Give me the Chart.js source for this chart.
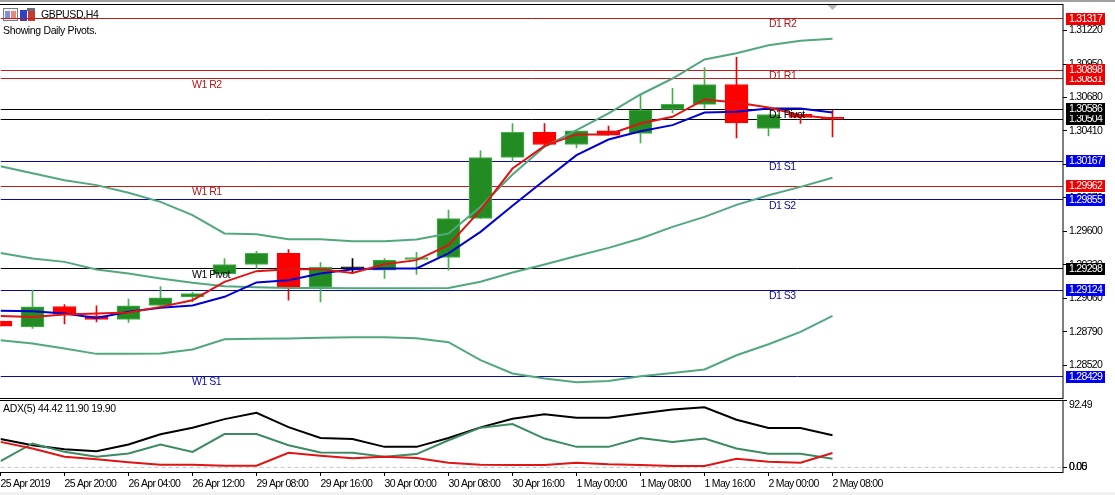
<!DOCTYPE html>
<html>
<head>
<meta charset="utf-8">
<title>GBPUSD,H4</title>
<script src="https://cdn.jsdelivr.net/npm/chart.js@4"></script>
<style>
    html, body { margin: 0; padding: 0; background: #fff; overflow: hidden; }
    #wrap { position: relative; width: 1115px; height: 495px; }
    canvas { position: absolute; left: 0; }
    #mainChart { top: 0; }
    #adxChart { top: 399px; }
    .strip { position: absolute; left: 0; width: 1115px; }
    #topStrip { top: 0; height: 2px; background: #a0a0a0; }
    #bottomStrip { top: 492px; height: 3px; background: #f0f0f0; }
</style>
</head>
<body>
<div id="wrap">
    <canvas id="mainChart" width="1115" height="399"></canvas>
    <canvas id="adxChart" width="1115" height="96"></canvas>
    <div class="strip" id="topStrip"></div>
    <div class="strip" id="bottomStrip"></div>
</div>
<script>
const candleOpen = [1.28876, 1.28830, 1.28994, 1.28918, 1.28889, 1.29002, 1.29072, 1.29257, 1.29333, 1.29422, 1.29152, 1.29306, 1.29287, 1.29373, 1.29389, 1.29704, 1.30196, 1.30398, 1.30301, 1.30411, 1.30390, 1.30583, 1.30624, 1.30785, 1.30430, 1.30545, 1.30519];
const candleHigh = [1.28876, 1.29126, 1.29010, 1.28999, 1.29053, 1.29155, 1.29109, 1.29381, 1.29440, 1.29454, 1.29349, 1.29381, 1.29381, 1.29430, 1.29771, 1.30249, 1.30470, 1.30470, 1.30411, 1.30449, 1.30704, 1.30753, 1.30922, 1.31003, 1.30543, 1.30545, 1.30578];
const candleLow = [1.28835, 1.28817, 1.28854, 1.28870, 1.28865, 1.28986, 1.29031, 1.29247, 1.29301, 1.29045, 1.29031, 1.29260, 1.29220, 1.29252, 1.29287, 1.29704, 1.30161, 1.30295, 1.30274, 1.30376, 1.30314, 1.30556, 1.30591, 1.30354, 1.30370, 1.30470, 1.30362];
const candleClose = [1.28835, 1.28991, 1.28932, 1.28889, 1.28999, 1.29063, 1.29099, 1.29333, 1.29422, 1.29152, 1.29309, 1.29306, 1.29368, 1.29389, 1.29704, 1.30196, 1.30398, 1.30301, 1.30411, 1.30376, 1.30578, 1.30624, 1.30785, 1.30475, 1.30543, 1.30519, 1.30505];

const bandUpper = [1.30126, 1.30069, 1.30013, 1.29973, 1.29911, 1.29838, 1.29731, 1.29583, 1.29577, 1.29537, 1.29537, 1.29521, 1.29521, 1.29535, 1.29583, 1.29798, 1.30059, 1.30282, 1.30416, 1.30551, 1.30704, 1.30833, 1.30987, 1.31037, 1.31102, 1.31137, 1.31153];
const bandMiddle = [1.29426, 1.29381, 1.29354, 1.29293, 1.29260, 1.29220, 1.29185, 1.29158, 1.29150, 1.29144, 1.29144, 1.29142, 1.29142, 1.29142, 1.29144, 1.29193, 1.29268, 1.29333, 1.29402, 1.29467, 1.29543, 1.29636, 1.29717, 1.29814, 1.29892, 1.29959, 1.30032];
const bandLower = [1.28722, 1.28696, 1.28655, 1.28612, 1.28612, 1.28615, 1.28647, 1.28730, 1.28733, 1.28736, 1.28741, 1.28746, 1.28746, 1.28738, 1.28706, 1.28561, 1.28454, 1.28413, 1.28383, 1.28394, 1.28432, 1.28458, 1.28486, 1.28601, 1.28690, 1.28789, 1.28918];
const maFast = [1.28918, 1.28910, 1.28930, 1.28938, 1.28946, 1.28991, 1.29045, 1.29193, 1.29279, 1.29295, 1.29295, 1.29265, 1.29335, 1.29368, 1.29489, 1.29771, 1.30107, 1.30290, 1.30382, 1.30382, 1.30470, 1.30524, 1.30664, 1.30640, 1.30599, 1.30537, 1.30511];
const maSlow = [1.28959, 1.28956, 1.28938, 1.28902, 1.28951, 1.28983, 1.29002, 1.29072, 1.29188, 1.29206, 1.29260, 1.29295, 1.29301, 1.29301, 1.29422, 1.29596, 1.29806, 1.30013, 1.30215, 1.30341, 1.30408, 1.30457, 1.30559, 1.30564, 1.30591, 1.30591, 1.30559];

const adxMain = [39.4, 30.7, 25.2, 22.5, 31.7, 45.8, 55.0, 66.8, 75.6, 55.8, 40.7, 39.4, 28.4, 28.4, 40.7, 55.4, 67.4, 73.7, 68.7, 68.7, 74.6, 80.1, 83.3, 66.0, 54.5, 54.5, 44.42];
const adxPlus = [8.8, 33.1, 21.5, 14.7, 19.3, 31.7, 21.5, 46.2, 46.2, 30.7, 20.7, 20.2, 14.7, 18.4, 37.6, 55.0, 60.0, 39.9, 28.4, 28.4, 40.7, 35.3, 39.9, 26.2, 18.8, 18.8, 11.90];
const adxMinus = [35.3, 26.2, 14.7, 11.1, 7.0, 3.7, 3.7, 2.3, 2.3, 20.2, 16.1, 12.5, 14.7, 12.9, 6.4, 3.7, 3.3, 3.3, 6.4, 4.3, 3.3, 1.9, 1.9, 11.9, 7.8, 6.4, 19.90];

const levelValues = [1.31317, 1.30898, 1.30831, 1.30586, 1.30504, 1.30167, 1.29962, 1.29855, 1.29298, 1.29124, 1.28429];
const levelKinds = ['r', 'r', 'r', 'k', 'k', 'b', 'r', 'b', 'k', 'b', 'b'];
const levelNames = ['D1 R2', 'D1 R1', 'W1 R2', 'D1 Pivot', '', 'D1 S1', 'W1 R1', 'D1 S2', 'W1 Pivot', 'D1 S3', 'W1 S1'];

const priceTicks = [1.31220, 1.30950, 1.30680, 1.30410, 1.30140, 1.29870, 1.29600, 1.29330, 1.29060, 1.28790, 1.28520];
const adxTicks = [92.49, 0.05, 0];
const timeTicks = [0, 2, 4, 6, 8, 10, 12, 14, 16, 18, 20, 22, 24, 26];
const timeLabels = ['25 Apr 2019', '25 Apr 20:00', '26 Apr 04:00', '26 Apr 12:00', '29 Apr 08:00', '29 Apr 16:00', '30 Apr 00:00', '30 Apr 08:00', '30 Apr 16:00', '1 May 00:00', '1 May 08:00', '1 May 16:00', '2 May 00:00', '2 May 08:00'];

const X_MAX = 33.203;
const FONT_FAMILY = '"Liberation Sans", sans-serif';
const AXIS_FONT = { family: FONT_FAMILY, size: 10.5 };
const TEXT_FONT = '10.5px ' + FONT_FAMILY;
const kindLine = { r: '#c41a1a', k: '#000000', b: '#0a0a9c' };
const kindText = { r: '#b01818', k: '#000000', b: '#0a0a9c' };
const kindTag = { r: '#f00000', k: '#000000', b: '#0000f0' };

function series(values) {
    return values.map((y, i) => ({ x: i, y }));
}

function lineSet(values, color, order, width) {
    return {
        type: 'line',
        data: series(values),
        borderColor: color,
        borderWidth: width || 2,
        pointRadius: 0,
        tension: 0,
        order
    };
}

function candleColor(i, up, down, flat) {
    if (candleClose[i] > candleOpen[i]) return up;
    if (candleClose[i] < candleOpen[i]) return down;
    return flat;
}

// levels sit under everything else, lower "order" draws on top
const levelSets = levelValues.map((v, i) => ({
    type: 'line',
    data: [{ x: 0, y: v }, { x: X_MAX, y: v }],
    borderColor: kindLine[levelKinds[i]],
    borderWidth: 1,
    pointRadius: 0,
    order: 20
}));

const candleSets = [
    {
        type: 'bar',
        data: candleHigh.map((h, i) => ({ x: i, y: [candleLow[i], h] })),
        backgroundColor: ctx => candleColor(ctx.dataIndex, '#46b04e', '#ee0000', '#000000'),
        barThickness: 1,
        grouped: false,
        order: 11
    },
    {
        type: 'bar',
        data: candleOpen.map((o, i) => ({ x: i, y: [o, candleClose[i]] })),
        backgroundColor: ctx => candleColor(ctx.dataIndex, '#228b22', '#ff0000', '#000000'),
        borderColor: ctx => candleColor(ctx.dataIndex, '#46b04e', '#ff0000', '#000000'),
        borderWidth: 1,
        borderSkipped: false,
        barThickness: 23,
        minBarLength: 1,
        grouped: false,
        order: 10
    }
];

function noEndPadding(scale) {
    scale.paddingTop = 0;
    scale.paddingBottom = 0;
    scale.paddingLeft = 0;
    scale.paddingRight = 0;
}

function rightAxis(extra) {
    return Object.assign({
        position: 'right',
        grid: { drawOnChartArea: false, drawTicks: true, tickLength: 4, tickColor: '#000', color: '#000' },
        border: { display: false },
        afterFit: scale => {
            scale.width = 52;
            noEndPadding(scale);
        }
    }, extra);
}

const narrowText = {
    id: 'narrowText',
    beforeDraw(chart) {
        chart.ctx.letterSpacing = '-0.7px';
    }
};

const framePlugin = {
    id: 'frame',
    afterDraw(chart) {
        const { ctx, chartArea: a } = chart;
        ctx.save();
        ctx.strokeStyle = '#000';
        ctx.lineWidth = 1;
        ctx.strokeRect(-2, Math.round(a.top) + 0.5, a.right + 2, Math.round(a.bottom - a.top));
        ctx.restore();
    }
};

// level lines land on a whole pixel row so they stay 1px sharp
const crispLevels = {
    id: 'crispLevels',
    beforeDatasetDraw(chart, args) {
        if (args.index >= levelValues.length) return;
        const y = chart.scales.y.getPixelForValue(levelValues[args.index]);
        chart.ctx.save();
        chart.ctx.translate(0, Math.round(y - 0.5) + 0.5 - y);
    },
    afterDatasetDraw(chart, args) {
        if (args.index >= levelValues.length) return;
        chart.ctx.restore();
    }
};

const mainDecor = {
    id: 'mainDecor',
    beforeDatasetsDraw(chart) {
        const ctx = chart.ctx;
        ctx.save();
        // window icons
        ctx.fillStyle = '#f4f4f4'; ctx.fillRect(3, 8, 15, 13);
        ctx.strokeStyle = '#7a7a8a'; ctx.strokeRect(3.5, 8.5, 14, 12);
        ctx.fillStyle = '#7f8fd8'; ctx.fillRect(5, 11, 5, 8);
        ctx.fillStyle = '#e88a7a'; ctx.fillRect(11, 11, 5, 8);
        ctx.fillStyle = '#3040c8'; ctx.fillRect(20, 10, 7, 11);
        ctx.fillStyle = '#c83c30'; ctx.fillRect(28, 11, 7, 10);
        ctx.fillStyle = '#6a6a7a'; ctx.fillRect(27, 8, 8, 3);
        ctx.fillStyle = '#000';
        ctx.font = TEXT_FONT;
        ctx.textBaseline = 'middle';
        ctx.textAlign = 'left';
        ctx.letterSpacing = '-0.35px';
        ctx.fillText('GBPUSD,H4', 41, 15);
        ctx.fillText('Showing Daily Pivots.', 3, 31);
        ctx.restore();
    },
    afterDraw(chart) {
        const { ctx, scales } = chart;
        ctx.save();
        ctx.font = TEXT_FONT;
        ctx.textBaseline = 'middle';
        ctx.letterSpacing = '-0.5px';
        levelValues.forEach((v, i) => {
            if (!levelNames[i]) return;
            ctx.fillStyle = kindText[levelKinds[i]];
            const x = levelNames[i].startsWith('D1') ? 769 : 192;
            ctx.fillText(levelNames[i], x, scales.y.getPixelForValue(v) + 6);
        });
        // last bar marker
        const mx = scales.x.getPixelForValue(26);
        ctx.fillStyle = '#b8b8b8';
        ctx.beginPath();
        ctx.moveTo(mx - 5, 5); ctx.lineTo(mx + 5, 5); ctx.lineTo(mx, 10);
        ctx.fill();
        // price tags, lower ones first so the upper one stays on top
        ctx.letterSpacing = '-0.7px';
        for (let i = levelValues.length - 1; i >= 0; i--) {
            const y = Math.round(scales.y.getPixelForValue(levelValues[i]));
            ctx.fillStyle = kindTag[levelKinds[i]];
            ctx.fillRect(1066, y - 6, 39, 12);
            ctx.fillStyle = '#fff';
            ctx.fillText(levelValues[i].toFixed(5), 1069, y + 0.5);
        }
        ctx.restore();
    }
};

const adxDecor = {
    id: 'adxDecor',
    afterDraw(chart) {
        const { ctx, scales } = chart;
        ctx.save();
        ctx.fillStyle = '#000';
        ctx.textBaseline = 'middle';
        ctx.font = TEXT_FONT;
        ctx.letterSpacing = '-0.35px';
        ctx.fillText('ADX(5) 44.42 11.90 19.90', 3, 10.5);
        ctx.letterSpacing = '-0.7px';
        ctx.fillText('92.49', 1069, scales.y.getPixelForValue(adxTicks[0]) + 5);
        ctx.restore();
    }
};

document.addEventListener('DOMContentLoaded', () => {
    renderMainChart();
    renderAdxChart();
});

function renderMainChart() {
    new Chart(document.getElementById('mainChart'), {
        type: 'line',
        data: {
            datasets: [
                ...levelSets,
                ...candleSets,
                lineSet(bandUpper, '#52a87e', 5),
                lineSet(bandMiddle, '#52a87e', 5),
                lineSet(bandLower, '#52a87e', 5),
                lineSet(maSlow, '#0000d0', 4),
                lineSet(maFast, '#e01414', 3)
            ]
        },
        options: {
            responsive: false,
            animation: false,
            devicePixelRatio: 1,
            layout: { padding: { top: 4, bottom: 1, left: 0.5, right: 0 } },
            plugins: { legend: { display: false }, tooltip: { enabled: false } },
            scales: {
                x: { type: 'linear', display: false, min: 0, max: X_MAX, offset: false, grid: { offset: false } },
                y: rightAxis({
                    min: 1.28256,
                    max: 1.31434,
                    afterBuildTicks: scale => { scale.ticks = priceTicks.map(value => ({ value })); },
                    ticks: {
                        autoSkip: false,
                        color: '#000',
                        padding: 2,
                        font: AXIS_FONT,
                        callback: v => v.toFixed(5)
                    }
                })
            }
        },
        plugins: [narrowText, crispLevels, framePlugin, mainDecor]
    });
}

function renderAdxChart() {
    new Chart(document.getElementById('adxChart'), {
        type: 'line',
        data: {
            datasets: [
                {
                    type: 'line',
                    data: [{ x: 0, y: 0 }, { x: X_MAX, y: 0 }],
                    borderColor: '#c4c4c4',
                    borderWidth: 1,
                    borderDash: [4, 3],
                    pointRadius: 0,
                    order: 9
                },
                lineSet(adxMain, '#000000', 3),
                lineSet(adxPlus, '#3c8a62', 2),
                lineSet(adxMinus, '#e01414', 1)
            ]
        },
        options: {
            responsive: false,
            animation: false,
            devicePixelRatio: 1,
            layout: { padding: { top: 1, bottom: 0, left: 0.5, right: 0 } },
            plugins: { legend: { display: false }, tooltip: { enabled: false } },
            scales: {
                x: {
                    type: 'linear',
                    min: 0,
                    max: X_MAX,
                    offset: false,
                    grid: { drawOnChartArea: false, tickLength: 4, tickColor: '#000', offset: false },
                    border: { display: false },
                    afterBuildTicks: scale => { scale.ticks = timeTicks.map(value => ({ value })); },
                    afterFit: scale => {
                        scale.height = 23;
                        noEndPadding(scale);
                    },
                    ticks: {
                        autoSkip: false,
                        maxRotation: 0,
                        align: 'start',
                        color: '#000',
                        padding: 2,
                        font: AXIS_FONT,
                        callback: v => timeLabels[timeTicks.indexOf(v)]
                    }
                },
                y: rightAxis({
                    min: -6.4,
                    max: 93.3,
                    afterBuildTicks: scale => { scale.ticks = adxTicks.map(value => ({ value })); },
                    ticks: {
                        autoSkip: false,
                        color: '#000',
                        padding: 2,
                        font: AXIS_FONT,
                        callback: v => (v === adxTicks[0] ? '' : v.toFixed(2))
                    }
                })
            }
        },
        plugins: [narrowText, framePlugin, adxDecor]
    });
}
</script>
</body>
</html>
